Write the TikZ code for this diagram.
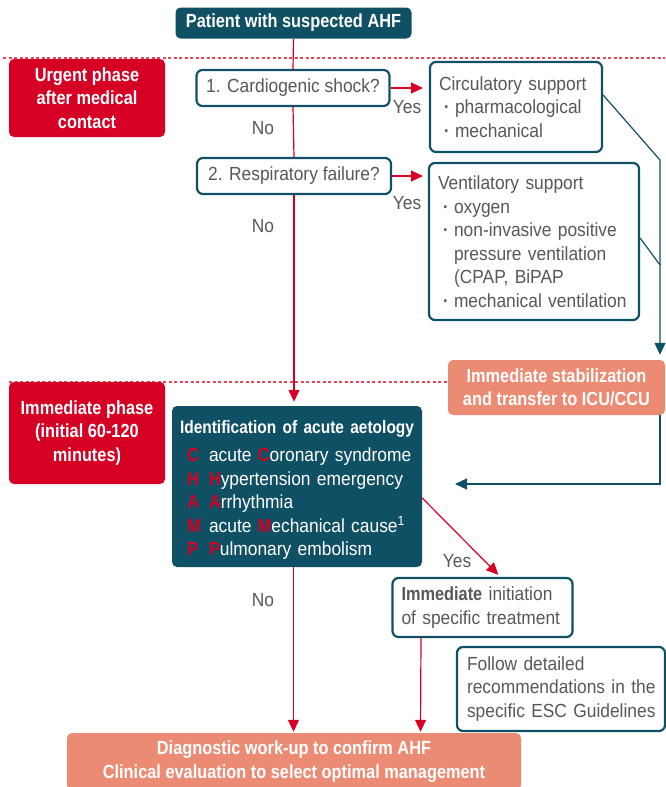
\documentclass[tikz,border=0pt]{standalone}
\usepackage{fontspec}
\setmainfont{Liberation Sans}[FakeStretch=0.915,BoldFeatures={FakeStretch=0.86}]
\usetikzlibrary{arrows.meta,calc}
\definecolor{ahfteal}{RGB}{16,80,100}
\definecolor{ahfred}{RGB}{213,0,35}
\definecolor{ahfsalmon}{RGB}{236,139,116}
\definecolor{ahfgray}{RGB}{88,88,88}
\definecolor{ahfdash}{RGB}{226,70,90}
\newcommand{\ahfbul}{\hspace*{5pt}\makebox[11pt][l]{\textbf{·}}}
\newcommand{\ahfind}{\hspace*{16pt}}
\newcommand{\ahfltr}[1]{\hspace*{7pt}\makebox[22pt][l]{\textcolor{ahfred}{\bfseries #1}}}
\newcommand{\ahfr}[1]{\textcolor{ahfred}{\bfseries #1}}
\newcommand{\ahfl}[1]{\makebox[0pt][l]{#1}}
\begin{document}
\begin{tikzpicture}[x=1pt,y=-1pt,
  font=\fontsize{19}{23.5}\selectfont,
  darkbox/.style={fill=ahfteal,text=white,rounded corners=5pt,inner sep=0pt,font=\fontsize{19}{23.5}\selectfont\bfseries},
  redbox/.style={fill=ahfred,text=white,rounded corners=5pt,inner sep=0pt,align=center,font=\fontsize{19}{23.5}\selectfont\bfseries},
  salbox/.style={fill=ahfsalmon,text=white,rounded corners=5pt,inner sep=0pt,align=center,font=\fontsize{19}{23.5}\selectfont\bfseries},
  qbox/.style={draw=ahfteal,line width=2.2pt,fill=white,rounded corners=6pt,text=ahfgray,inner sep=0pt},
  tbox/.style={draw=ahfteal,line width=2.2pt,fill=white,rounded corners=6pt,text=ahfgray,align=left,inner ysep=0pt},
  lbl/.style={text=ahfgray,inner sep=0pt},
  redline/.style={draw=ahfred,line width=1.2pt},
  redarrow/.style={draw=ahfred,line width=1.2pt,-{Triangle[length=12pt,width=11pt]}},
  tealline/.style={draw=ahfteal,line width=1.2pt},
  tealarrow/.style={draw=ahfteal,line width=1.2pt,-{Triangle[length=12pt,width=11pt]}},
  phaseline/.style={draw=ahfdash,line width=1.3pt,dash pattern=on 3pt off 2.5pt}
]
\useasboundingbox (0,0) rectangle (665,787);

% phase separators
\draw[phaseline] (3,58) -- (665,58);
\draw[phaseline] (9,382) -- (448,382);

% nodes
\node[darkbox,minimum width=236pt,minimum height=31pt] (top) at (293.5,23) {Patient with suspected AHF};
\node[redbox,minimum width=156pt,minimum height=78pt] (urgent) at (87,98) {Urgent phase\\after medical\\contact};
\node[qbox,minimum width=193pt,minimum height=36pt] (card) at (293,88) {1. Cardiogenic shock?};
\node[tbox,inner xsep=9pt,text width=154pt,minimum height=90pt] (circ) at (516,107)
  {\ahfl{Circulatory support}\\\ahfl{\ahfbul pharmacological}\\\ahfl{\ahfbul mechanical}};
\node[qbox,minimum width=194pt,minimum height=36pt] (resp) at (294,176) {2. Respiratory failure?};
\node[tbox,inner xsep=9pt,text width=192pt,minimum height=157pt] (vent) at (534,241.5)
  {\ahfl{Ventilatory support}\\
   \ahfl{\ahfbul oxygen}\\
   \ahfl{\ahfbul non-invasive positive}\\
   \ahfl{\ahfind pressure ventilation}\\
   \ahfl{\ahfind (CPAP, BiPAP}\\
   \ahfl{\ahfbul mechanical ventilation}};
\node[salbox,minimum width=217pt,minimum height=55pt] (stab) at (556.5,387.5) {Immediate stabilization\\and transfer to ICU/CCU};
\node[redbox,minimum width=156pt,minimum height=102pt] (immph) at (87,433) {Immediate phase\\(initial 60-120\\minutes)};
\node[fill=ahfteal,text=white,rounded corners=5pt,inner xsep=8pt,inner ysep=0pt,text width=234pt,minimum height=161pt,align=left] (ident) at (297,486.5)
  {\rule{0pt}{20pt}\ahfl{\fontsize{18}{23.5}\selectfont\bfseries Identification of acute aetology}\\[4.5pt]
   \ahfl{\ahfltr{C}acute \ahfr{C}oronary syndrome}\\
   \ahfl{\ahfltr{H}\ahfr{H}ypertension emergency}\\
   \ahfl{\ahfltr{A}\ahfr{A}rrhythmia}\\
   \ahfl{\ahfltr{M}acute \ahfr{M}echanical cause\textsuperscript{1}}\\
   \ahfl{\ahfltr{P}\ahfr{P}ulmonary embolism}};
\node[tbox,inner xsep=9pt,text width=162pt,minimum height=59pt] (imm) at (482.5,607.5)
  {\ahfl{{\bfseries Immediate} initiation}\\\ahfl{of specific treatment}};
\node[tbox,inner xsep=10pt,text width=188pt,minimum height=84pt] (follow) at (561,689)
  {\ahfl{Follow detailed}\\\ahfl{recommendations in the}\\\ahfl{specific ESC Guidelines}};
\node[salbox,minimum width=454pt,minimum height=57pt] (diag) at (294,761.5)
  {Diagnostic work-up to confirm AHF\\Clinical evaluation to select optimal management};

% labels
\node[lbl] (yes1) at (407,107) {Yes};
\node[lbl] (no1) at (263,128) {No};
\node[lbl] (yes2) at (407,203) {Yes};
\node[lbl] (no2) at (263,226) {No};
\node[lbl] (yes3) at (457,561) {Yes};
\node[lbl] (no3) at (263,600) {No};

% coordinates
\coordinate (bend1) at (660,160);
\coordinate (bend2) at (660,265);
\coordinate (bend3) at (660,484);
\coordinate (identin) at (455,484);

% red connectors
\draw[redline] (top.south) -- (card.north);
\draw[redline] (card.south) -- (resp.north);
\draw[redarrow,shorten >=4pt] (resp.south) -- (ident.north -| resp.south);
\draw[redarrow,shorten >=6pt] (card.east) -- (card.east -| circ.west);
\draw[redarrow,shorten >=5pt] (resp.east) -- (resp.east -| vent.west);
\draw[redarrow,shorten >=3pt] ($(ident.east)+(0,11.5)$) -- ($(imm.north)+(18,0)$);
\draw[redarrow,shorten >=1pt] (ident.south -| top.south) -- (diag.north -| top.south);
\draw[redarrow,shorten >=1pt] ($(imm.south)+(-61.5,0)$) -- ($(diag.north)+(126.5,0)$);

% teal connectors
\draw[tealarrow,shorten >=5pt] ($(circ.east)+(0,-12)$) -- (bend1) -- (bend1 |- stab.north);
\draw[tealline] ($(vent.east)+(0,-3.5)$) -- (bend2);
\draw[tealarrow] (bend1 |- stab.south) -- (bend3) -- (identin);
\end{tikzpicture}
\end{document}
